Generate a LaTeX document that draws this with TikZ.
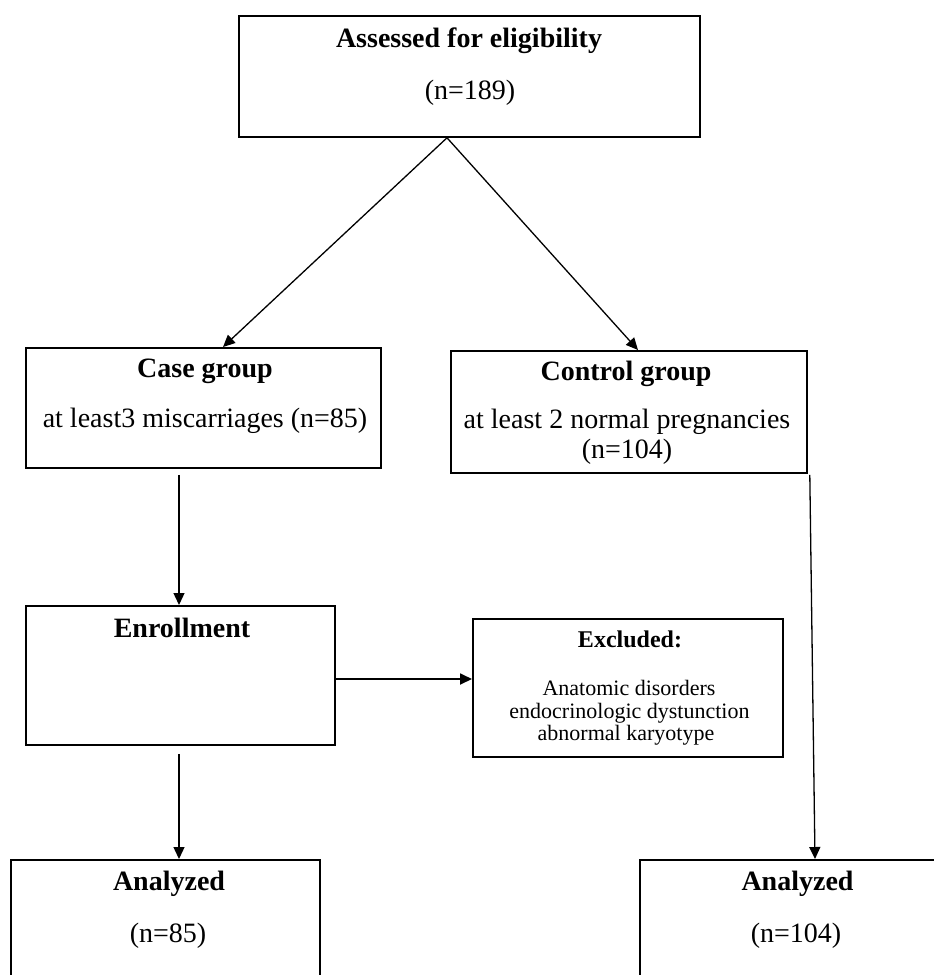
\documentclass[tikz,border=0pt]{standalone}
\usepackage{fontspec}
\setmainfont{Liberation Serif}
\usetikzlibrary{arrows.meta,calc}
\begin{document}
\begin{tikzpicture}[x=1pt,y=-1pt,
  box/.style={draw, line width=1.8pt, rectangle, inner sep=0pt, anchor=north west},
  hd/.style={font=\fontsize{28}{30}\selectfont\bfseries, anchor=base, inner sep=0pt},
  tx/.style={font=\fontsize{28}{30}\selectfont, anchor=base, inner sep=0pt},
  hds/.style={font=\fontsize{24}{26}\selectfont\bfseries, anchor=base, inner sep=0pt},
  txs/.style={font=\fontsize{22}{24}\selectfont, anchor=base, inner sep=0pt},
  arr/.style={line width=1.3pt, -{Triangle[length=12pt,width=11pt]}}]
\useasboundingbox (0,0) rectangle (934,975);
\fill[white] (0,0) rectangle (934,975);
\clip (0,0) rectangle (934,975);
% boxes
\node[box, minimum width=461pt, minimum height=121pt] (top) at (238,15) {};
\node[box, minimum width=355pt, minimum height=120pt] (case) at (25,347) {};
\node[box, minimum width=356pt, minimum height=122pt] (control) at (450,350) {};
\node[box, minimum width=309pt, minimum height=139pt] (enroll) at (25,605) {};
\node[box, minimum width=310pt, minimum height=138pt] (excl) at (472,618) {};
\node[box, minimum width=309pt, minimum height=200pt] (anaL) at (10,859) {};
\node[box, minimum width=400pt, minimum height=200pt] (anaR) at (639,859) {};
% texts
\node[hd] (t1) at (469,47) {Assessed for eligibility};
\node[tx] (t2) at (470,99) {(n=189)};
\node[hd] (c1) at (205,377) {Case group};
\node[tx] (c2) at (205,427) {at least3 miscarriages (n=85)};
\node[hd] (k1) at (626,380) {Control group};
\node[tx] (k2) at (627,428) {at least 2 normal pregnancies};
\node[tx] (k3) at (627,458) {(n=104)};
\node[hd] (e1) at (182,637) {Enrollment};
\node[hds] (x1) at (630,647) {Excluded:};
\node[txs] (x2) at (629,695) {Anatomic disorders};
\node[txs] (x3) at (629.5,718) {endocrinologic dystunction};
\node[txs] (x4) at (626,740) {abnormal karyotype};
\node[hd] (a1) at (169,890) {Analyzed};
\node[tx] (a2) at (168,942) {(n=85)};
\node[hd] (b1) at (797.5,890) {Analyzed};
\node[tx] (b2) at (796,942) {(n=104)};
% connectors
\coordinate (apex) at ($(top.south west)+(209,0)$);
\draw[arr] (apex) -- ($(case.north west)+(198,0)$);
\draw[arr] (apex) -- ($(control.north west)+(188,0)$);
\draw[arr] ($(case.south west)+(154,6)$) -- ($(enroll.north west)+(154,0)$);
\draw[arr, line width=1.8pt] ($(enroll.north east)+(0,74)$) -- ($(excl.north west)+(0,61)$);
\draw[arr] ($(enroll.south west)+(154,8)$) -- ($(anaL.north west)+(169,0)$);
\draw[arr] ($(control.south east)+(2,1)$) -- ($(anaR.north west)+(176,0)$);
\end{tikzpicture}
\end{document}
